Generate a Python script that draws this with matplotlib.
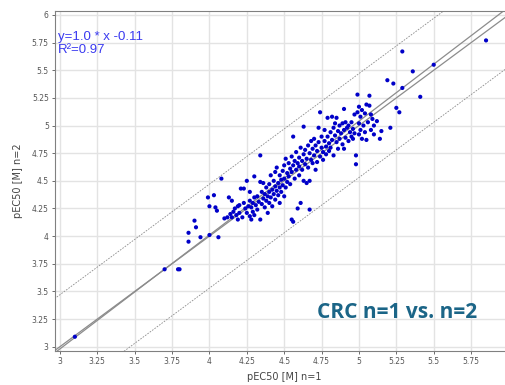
import matplotlib
matplotlib.use("Agg")
import matplotlib.pyplot as plt
import numpy as np
from matplotlib.ticker import FuncFormatter

# pEC50 values, run n=1 (x) vs. run n=2 (y)
pec50_n1 = [
    3.10, 3.70, 3.79, 3.80, 3.86, 3.86, 3.90, 3.91, 3.94,
    3.99, 4.00, 4.00, 4.03, 4.04, 4.05, 4.06, 4.08, 4.10,
    4.12, 4.13, 4.14, 4.15, 4.15, 4.16, 4.17, 4.18, 4.19, 4.19, 4.20, 4.20,
    4.21, 4.23, 4.22, 4.23, 4.24, 4.25, 4.25, 4.26, 4.27, 4.27, 4.27, 4.28, 4.28, 4.29, 4.29, 4.30, 4.30, 4.30,
    4.31, 4.32, 4.32, 4.33, 4.34, 4.34, 4.34, 4.35, 4.35, 4.36, 4.36, 4.37, 4.37, 4.38, 4.38, 4.39, 4.39, 4.40, 4.40, 4.40,
    4.41, 4.41, 4.42, 4.42, 4.43, 4.43, 4.44, 4.44, 4.44, 4.45, 4.45, 4.46, 4.46, 4.47, 4.47, 4.47, 4.48, 4.48, 4.49, 4.49, 4.50, 4.50, 4.50,
    4.51, 4.51, 4.52, 4.52, 4.53, 4.53, 4.54, 4.54, 4.55, 4.56, 4.55, 4.55, 4.56, 4.56, 4.57, 4.57, 4.58, 4.58, 4.59, 4.59, 4.60, 4.60, 4.60,
    4.61, 4.61, 4.62, 4.62, 4.63, 4.63, 4.63, 4.64, 4.64, 4.65, 4.65, 4.66, 4.66, 4.67, 4.67, 4.67, 4.68, 4.68, 4.69, 4.69, 4.70, 4.70,
    4.71, 4.71, 4.72, 4.72, 4.73, 4.73, 4.74, 4.74, 4.75, 4.75, 4.76, 4.76, 4.77, 4.77, 4.78, 4.78, 4.79, 4.79, 4.80, 4.80,
    4.81, 4.81, 4.82, 4.82, 4.83, 4.83, 4.84, 4.84, 4.85, 4.85, 4.86, 4.86, 4.87, 4.87, 4.88, 4.89, 4.89, 4.90, 4.90, 4.90,
    4.91, 4.91, 4.92, 4.93, 4.93, 4.94, 4.95, 4.95, 4.96, 4.96, 4.97, 4.97, 4.98, 4.98, 4.99, 4.99, 5.00, 5.00, 5.00,
    5.01, 5.01, 5.02, 5.02, 5.03, 5.04, 5.04, 5.05, 5.05, 5.06, 5.07, 5.07, 5.08, 5.08, 5.09, 5.10, 5.10,
    5.12, 5.14, 5.15, 5.19, 5.21, 5.23, 5.25, 5.27, 5.29, 5.29,
    5.36, 5.41, 5.50, 5.85,
]
pec50_n2 = [
    3.09, 3.70, 3.70, 3.70, 3.95, 4.03, 4.14, 4.08, 3.99,
    4.35, 4.01, 4.27, 4.37, 4.26, 4.23, 3.99, 4.52, 4.16,
    4.17, 4.35, 4.20, 4.32, 4.17, 4.22, 4.25, 4.19, 4.27, 4.15, 4.21, 4.28,
    4.43, 4.43, 4.17, 4.30, 4.25, 4.50, 4.21, 4.27, 4.40, 4.32, 4.18, 4.15, 4.26, 4.30, 4.22, 4.54, 4.35, 4.19,
    4.28, 4.36, 4.24, 4.31, 4.73, 4.49, 4.15, 4.40, 4.29, 4.48, 4.34, 4.38, 4.26, 4.44, 4.32, 4.36, 4.21, 4.47, 4.40, 4.30,
    4.55, 4.35, 4.42, 4.27, 4.50, 4.38, 4.58, 4.45, 4.33, 4.62, 4.41, 4.48, 4.37, 4.55, 4.44, 4.30, 4.51, 4.40, 4.59, 4.46, 4.64, 4.52, 4.36,
    4.70, 4.44, 4.57, 4.49, 4.66, 4.54, 4.61, 4.47, 4.15, 4.13, 4.72, 4.58, 4.90, 4.64, 4.52, 4.68, 4.76, 4.60, 4.66, 4.25, 4.55, 4.71, 4.63,
    4.30, 4.80, 4.68, 4.60, 4.99, 4.74, 4.50, 4.65, 4.78, 4.48, 4.70, 4.82, 4.62, 4.24, 4.75, 4.50, 4.86, 4.69, 4.79, 4.66, 4.73, 4.88,
    4.60, 4.82, 4.67, 4.77, 4.98, 4.85, 5.12, 4.72, 4.80, 4.90, 4.76, 4.69, 4.86, 4.96, 4.81, 4.74, 5.07, 4.90, 4.84, 4.77,
    4.94, 4.80, 5.08, 4.87, 4.98, 4.73, 4.91, 5.02, 5.07, 4.85, 4.95, 4.79, 5.00, 4.88, 4.93, 5.02, 4.83, 5.15, 4.79, 4.96,
    5.03, 4.89, 4.98, 5.00, 4.86, 4.94, 5.03, 4.90, 4.97, 4.88, 5.10, 4.93, 4.73, 4.65, 5.28, 5.12, 5.17, 5.02, 4.92,
    5.08, 4.96, 5.14, 4.88, 5.00, 5.11, 4.94, 5.19, 4.87, 5.03, 5.27, 5.18, 4.96, 5.10, 5.06, 4.92, 5.00,
    5.04, 4.88, 4.95, 5.41, 4.98, 5.38, 5.16, 5.12, 5.67, 5.34,
    5.49, 5.26, 5.55, 5.77,
]

fit_slope = 1.03
fit_intercept = -0.11
band_offset = 0.47
x_ticks = [3, 3.25, 3.5, 3.75, 4, 4.25, 4.5, 4.75, 5, 5.25, 5.5, 5.75]
y_ticks = [3, 3.25, 3.5, 3.75, 4, 4.25, 4.5, 4.75, 5, 5.25, 5.5, 5.75, 6]

fig = plt.figure(figsize=(5.06, 3.85), dpi=100)
# the reference crops the right edge of the plot, so the axes run past the figure
ax = fig.add_axes([55 / 506, 34 / 385, 459 / 506, 340 / 385])

xs = np.array([2.9, 6.1])
ax.plot(xs, xs, color="#8c8c8c", lw=0.9, zorder=2)
ax.plot(xs, fit_slope * xs + fit_intercept, color="#8c8c8c", lw=0.9, zorder=2)
ax.plot(xs, xs + band_offset, color="#8c8c8c", lw=0.6, ls=(0, (2, 1.5)), zorder=2)
ax.plot(xs, xs - band_offset, color="#8c8c8c", lw=0.6, ls=(0, (2, 1.5)), zorder=2)

ax.scatter(pec50_n1, pec50_n2, s=9, color="#0000c8", edgecolors="none", zorder=3)

ax.set_xlim(2.967, 6.037)
ax.set_ylim(2.961, 6.036)
ax.set_xticks(x_ticks)
ax.set_yticks(y_ticks)
fmt = FuncFormatter(lambda v, p: f"{v:g}")
ax.xaxis.set_major_formatter(fmt)
ax.yaxis.set_major_formatter(fmt)
ax.grid(True, color="#e3e3e3", lw=1.0)
ax.set_axisbelow(True)
ax.tick_params(labelsize=5.5, colors="#555555", length=2.5, width=0.6, pad=2)
for side in ["left", "bottom", "top"]:
    ax.spines[side].set_color("#808080")
    ax.spines[side].set_linewidth(0.8)
ax.spines["right"].set_visible(False)

ax.set_xlabel("pEC50 [M] n=1", fontsize=7, color="#444444", labelpad=4)
ax.set_ylabel("pEC50 [M] n=2", fontsize=7, color="#444444", labelpad=6)

ax.text(0.006, 0.94, "y=1.0 * x -0.11\nR²=0.97", transform=ax.transAxes,
        fontsize=9.5, color="#3a3af0", va="top", ha="left", linespacing=1.1,
        family="Liberation Sans")
ax.text((317 - 55) / 459, (351 - 312) / 340, "CRC n=1 vs. n=2",
        transform=ax.transAxes, fontsize=15, color="#1b6587", fontweight="bold",
        va="center", ha="left", family="Open Sans")

fig.savefig("out.png", dpi=100)
